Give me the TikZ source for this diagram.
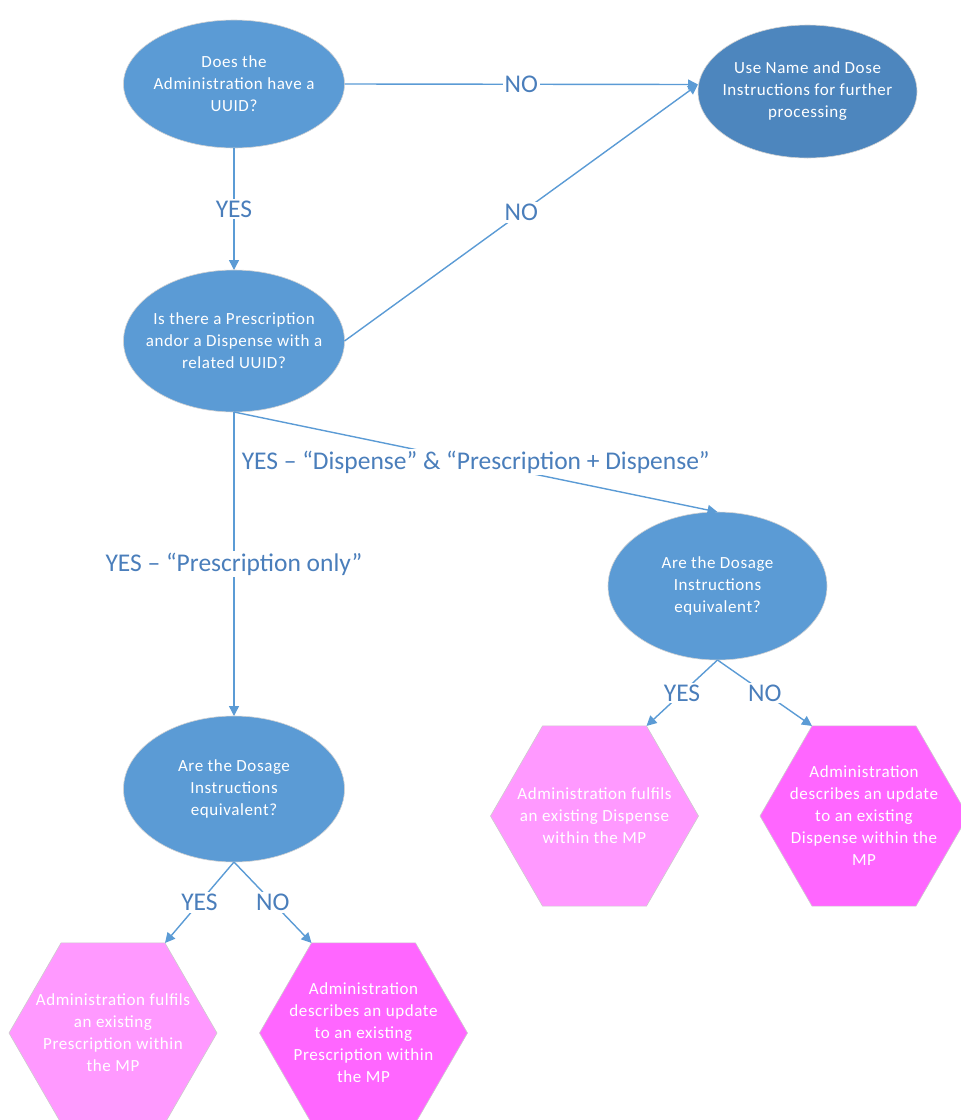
\documentclass[tikz,border=0pt]{standalone}
\usepackage{fontspec}
\setmainfont{Carlito}
\newfontfamily\nodefamily[LetterSpace=3.5]{Carlito}
\usetikzlibrary{shapes.geometric,arrows.meta}
\definecolor{ellblue}{RGB}{91,155,213}
\definecolor{ellblued}{RGB}{77,134,190}
\definecolor{pinklight}{RGB}{255,153,255}
\definecolor{pinkstrong}{RGB}{255,102,255}
\definecolor{lblblue}{RGB}{74,126,187}
\definecolor{linecol}{RGB}{91,155,213}
\newcommand{\nodefnt}{\nodefamily\fontsize{17}{22}\selectfont}
\newcommand{\lblfnt}{\fontsize{25.5}{28}\selectfont}
\begin{document}
\begin{tikzpicture}[x=1pt,y=-1pt,
  ell/.style={ellipse, inner sep=0pt, outer sep=0pt, fill=ellblue, draw=gray!35, line width=0.6pt},
  hex/.style={regular polygon, regular polygon sides=6, minimum size=208pt, inner sep=0pt, outer sep=0pt, draw=gray!40, line width=0.6pt},
  txt/.style={align=center, text=white, font=\nodefnt, inner sep=0pt},
  conn/.style={draw=linecol, line width=1.4pt, -{Triangle[length=10pt,width=10pt]}},
  lbl/.style={fill=white, text=lblblue, font=\lblfnt, inner sep=2pt}
]
\useasboundingbox (0,0) rectangle (961,1120);
\clip (0,0) rectangle (961,1120);

% ellipses
\node[ell, minimum width=221pt, minimum height=128pt] (A) at (234,84) {};
\node[txt] at (A) {Does the\\Administration have a\\UUID?};

\node[ell, fill=ellblued, minimum width=219pt, minimum height=133pt] (B) at (807.5,91.5) {};
\node[txt] at (B) {Use Name and Dose\\Instructions for further\\processing};

\node[ell, minimum width=221pt, minimum height=142pt] (C) at (234,341) {};
\node[txt] at (C) {Is there a Prescription\\andor a Dispense with a\\related UUID?};

\node[ell, minimum width=219pt, minimum height=148pt] (D) at (717.5,586) {};
\node[txt] at (D) {Are the Dosage\\Instructions\\equivalent?};

\node[ell, minimum width=221pt, minimum height=146pt] (E) at (234,789) {};
\node[txt] at (E) {Are the Dosage\\Instructions\\equivalent?};

% hexagons
\node[hex, fill=pinklight] (F) at (113,1033) {};
\node[txt] at (F) {Administration fulfils\\an existing\\Prescription within\\the MP};

\node[hex, fill=pinkstrong] (G) at (363.5,1033) {};
\node[txt] at (G) {Administration\\describes an update\\to an existing\\Prescription within\\the MP};

\node[hex, fill=pinklight] (H) at (594.5,816) {};
\node[txt] at (H) {Administration fulfils\\an existing Dispense\\within the MP};

\node[hex, fill=pinkstrong] (I) at (864,816) {};
\node[txt] at (I) {Administration\\describes an update\\to an existing\\Dispense within the\\MP};

% connectors
\draw[conn] (A.east) -- node[lbl]{NO} ([yshift=7pt]B.west);
\draw[conn] (A.south) -- node[lbl]{YES} (C.north);
\draw[conn] (C.east) -- node[lbl]{NO} ([yshift=7pt]B.west);
\draw[conn] (C.south) -- node[lbl]{YES – “Dispense” \& “Prescription + Dispense”} (D.north);
\draw[conn] (C.south) -- node[lbl]{YES – “Prescription only”} (E.north);
\draw[conn] (D.south) -- node[lbl]{YES} (H.60);
\draw[conn] (D.south) -- node[lbl]{NO} (I.120);
\draw[conn] (E.south) -- node[lbl]{YES} (F.60);
\draw[conn] (E.south) -- node[lbl]{NO} (G.120);
\end{tikzpicture}
\end{document}
